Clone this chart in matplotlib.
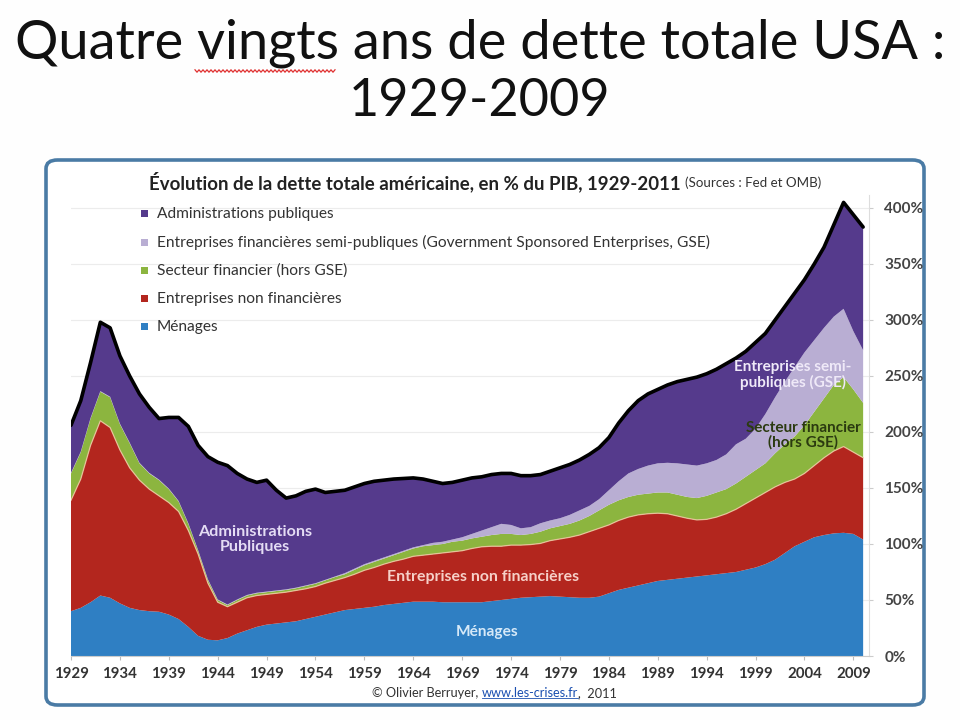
import matplotlib
matplotlib.use("Agg")
import matplotlib.pyplot as plt
import numpy as np
from matplotlib.patches import FancyBboxPatch, Rectangle
from matplotlib.lines import Line2D

# ---------------- data (% of GDP) ----------------
years = list(range(1929, 2011))

menages = [40, 43, 48, 54, 52, 47, 43, 41, 40, 39.5,
           37, 33, 26, 18, 14.5, 14, 16, 20, 23, 26,
           28, 29, 30, 31, 33, 35, 37, 39, 41, 42,
           43, 44, 45.5, 46.5, 47.5, 48.5, 48.5, 48.5, 48, 48,
           48, 48, 48, 49, 50, 51, 52, 52.5, 53, 53.5,
           53, 52.5, 52, 52, 53, 56, 59, 61, 63, 65,
           67, 68, 69, 70, 71, 72, 73, 74, 75, 77,
           79, 82, 86, 92, 98, 102, 106, 108, 109.5, 110,
           109, 104]

entreprises = [99, 115, 140, 156, 152, 137, 125, 116, 109, 103.5,
               100, 96, 86, 73, 50.5, 34, 28, 28, 29, 28,
               27, 27, 27, 27.5, 27, 27, 28, 28.5, 29, 31,
               33.5, 35, 36.5, 38, 39, 40.5, 41.5, 42.5, 44, 45,
               46, 48, 49.5, 49, 48, 48, 47, 47, 47.5, 49.5,
               51.5, 53.5, 56, 59, 61, 61, 62, 63, 63, 62,
               60.5, 59, 56, 53, 50.5, 50, 51, 53, 56, 59,
               62, 64, 65, 63, 60, 61, 64, 69, 73.5, 77,
               73, 73]

financier = [24, 24, 24, 26, 27, 23, 22, 15, 14, 14,
             12, 9, 6, 3, 3, 2, 1.5, 2, 2, 2,
             2, 2, 2, 2, 2.5, 2.5, 2.5, 3, 3, 4,
             4.5, 5, 5, 5.5, 6.5, 7, 8, 8, 8, 9,
             9, 9, 9, 10, 11, 10, 9, 9.5, 10.5, 11,
             11.5, 12, 13, 14, 16, 18, 18, 18, 18, 18,
             18.5, 19, 19, 19, 19.5, 21, 22, 22, 23, 24,
             25, 26, 30, 34, 38, 43, 48, 53, 59, 62,
             56, 49]

gse = [0.5, 0.5, 0.5, 0.5, 0.5, 0.5, 0.5, 0.5, 0.5, 0.5,
       0.5, 0.5, 0.5, 0.5, 0.5, 0.5, 0.5, 0.5, 0.5, 0.5,
       0.5, 0.5, 0.5, 0.5, 0.5, 0.5, 0.5, 0.5, 1, 1,
       1, 1, 1, 1, 1, 1, 1, 2, 2, 2,
       3, 4, 5.5, 7, 9, 8, 6, 6, 7.5, 7,
       7, 8, 9, 9, 10, 13, 17, 21, 23, 25,
       26, 26.5, 28, 29, 29, 29, 29, 31, 35, 34,
       37, 44, 50, 56, 62, 65, 64, 63, 61, 61,
       52, 47]

admin = [42.5, 45.5, 49.5, 61.5, 61.5, 60.5, 59.5, 61.5, 58.5, 54.5,
         63.5, 74.5, 86.5, 93.5, 109.5, 122.5, 124, 112.5, 103.5, 98.5,
         99.5, 89.5, 81.5, 82, 84, 84, 78, 76, 74, 73,
         72, 71, 69, 67, 64.5, 62, 59, 55, 52, 51,
         51, 50, 48, 47, 45, 46, 47, 46, 43.5, 44,
         45, 45, 45, 46, 46, 47, 52, 56, 61, 64,
         66, 69.5, 73, 76, 79, 80, 81, 81, 77, 78,
         77, 72, 69, 67, 66, 65, 68, 72, 82, 95,
         104, 110]

series_labels = ["Administrations publiques",
                 "Entreprises financières semi-publiques (Government Sponsored Enterprises, GSE)",
                 "Secteur financier (hors GSE)",
                 "Entreprises non financières",
                 "Ménages"]

xtick_years = list(range(1929, 2010, 5))
ytick_values = list(range(0, 401, 50))

# ---------------- style ----------------
FONT = ["Lato", "DejaVu Sans"]
plt.rcParams["font.family"] = FONT

c_men = "#2f7fc3"
c_ent = "#b3261e"
c_fin = "#8cb53f"
c_gse = "#b9aed3"
c_adm = "#553a8c"

W, H = 960, 720
fig = plt.figure(figsize=(9.6, 7.2), dpi=100)
fig.patch.set_facecolor("#fefefe")

def fx(x):
    return x / W

def fy(y):
    return 1 - y / H

# slide title
fig.text(0.5, fy(43), "Quatre vingts ans de dette totale USA :", ha="center", va="center",
         fontsize=39, color="#111111")
fig.text(0.5, fy(101), "1929-2009", ha="center", va="center", fontsize=37.5, color="#111111")
# spell-check squiggle under "vingts"
sx = np.arange(195, 337, 2.0)
sy = 71 + np.where(np.arange(len(sx)) % 2 == 0, -1.2, 1.2)
fig.add_artist(Line2D(fx(sx), fy(sy), transform=fig.transFigure, color="#e03030", lw=0.9))

# frame
frame = FancyBboxPatch((fx(46), fy(705)), fx(924) - fx(46), fy(160) - fy(705),
                       boxstyle="round,pad=0,rounding_size=0.012", transform=fig.transFigure,
                       facecolor="white", edgecolor="#4a7ba5", lw=2.6, zorder=-5)
fig.add_artist(frame)

# axes
ax = fig.add_axes([fx(71), fy(656), (869 - 71) / W, (656 - 195) / H])
ax.set_facecolor("none")
ax.stackplot(years, menages, entreprises, financier, gse, admin,
             colors=[c_men, c_ent, c_fin, c_gse, c_adm], linewidth=0, zorder=2)
red_top = np.array(menages) + np.array(entreprises)
total = red_top + np.array(financier) + np.array(gse) + np.array(admin)
ax.plot(years, red_top, color="#eec8a2", lw=0.9, alpha=0.85, zorder=3)
ax.plot(years, total, color="black", lw=2.6, zorder=4, solid_capstyle="round")

ax.set_xlim(1929, 2010.6)
ax.set_ylim(0, 411.6)
ax.set_xticks(xtick_years)
ax.set_xticklabels([str(v) for v in xtick_years], fontsize=10.8, fontweight="bold", color="#333333")
ax.yaxis.tick_right()
ax.set_yticks(ytick_values)
ax.set_yticklabels([f"{v}%" for v in ytick_values], fontsize=11, fontweight="bold", color="#444444")
ax.tick_params(axis="x", length=3, color="#bbbbbb", pad=5)
ax.tick_params(axis="y", length=3, color="#cccccc", pad=8)
ax.grid(axis="y", color="#ececec", lw=0.8, zorder=0)
ax.set_axisbelow(True)
for s in ("top", "left"):
    ax.spines[s].set_visible(False)
ax.spines["bottom"].set_color("#cccccc")
ax.spines["right"].set_color("#dddddd")

# in-chart labels
ax.text(1947.8, 104, "Administrations\nPubliques", ha="center", va="center", fontsize=11.6,
        fontweight="bold", color="#e4dcf4", linespacing=1.1, zorder=5)
ax.text(1971.1, 70.5, "Entreprises non financières", ha="center", va="center", fontsize=11.4,
        fontweight="bold", color="#f6d0c8", zorder=5)
ax.text(1971.5, 21.4, "Ménages", ha="center", va="center", fontsize=11.1,
        fontweight="bold", color="#d6e9f8", zorder=5)
ax.text(2002.8, 251, "Entreprises semi-\npubliques (GSE)", ha="center", va="center", fontsize=11,
        fontweight="bold", color="#efe9f8", linespacing=1.05, zorder=5)
ax.text(2003.9, 197, "Secteur financier\n(hors GSE)", ha="center", va="center", fontsize=11,
        fontweight="bold", color="#2b3a10", linespacing=1.05, zorder=5)

# chart title
t1 = fig.text(fx(149), fy(182), "Évolution de la dette totale américaine, en % du PIB, 1929-2011",
              ha="left", va="center", fontsize=13.4, fontweight="bold", color="#222222")
fig.canvas.draw()
r = fig.canvas.get_renderer()
bb = t1.get_window_extent(r)
fig.text(bb.x1 / W + fx(4), fy(183), "(Sources : Fed et OMB)", ha="left", va="center",
         fontsize=9.6, color="#333333")

# legend
leg_colors = [c_adm, c_gse, c_fin, c_ent, c_men]
for i, (lab, col) in enumerate(zip(series_labels, leg_colors)):
    yy = 214 + 28.2 * i
    fig.add_artist(Rectangle((fx(141), fy(yy + 3.5)), 7 / W, 7 / H, transform=fig.transFigure,
                             facecolor=col, edgecolor="none", zorder=6))
    fig.text(fx(157), fy(yy), lab, ha="left", va="center", fontsize=11.2, color="#333333", zorder=6)

# footer
f1 = fig.text(fx(372), fy(693), "© Olivier Berruyer, ", ha="left", va="center", fontsize=9.2, color="#333333")
fig.canvas.draw()
b1 = f1.get_window_extent(r)
f2 = fig.text(b1.x1 / W, fy(693), "www.les-crises.fr", ha="left", va="center", fontsize=9.2, color="#1a4fb0")
fig.canvas.draw()
b2 = f2.get_window_extent(r)
fig.add_artist(Line2D([b2.x0 / W, b2.x1 / W], [b2.y0 / H + 0.001, b2.y0 / H + 0.001],
                      transform=fig.transFigure, color="#1a4fb0", lw=0.6))
fig.text(b2.x1 / W, fy(693), ",  2011", ha="left", va="center", fontsize=9.2, color="#333333")

fig.savefig("out.png", dpi=100, facecolor=fig.get_facecolor())
